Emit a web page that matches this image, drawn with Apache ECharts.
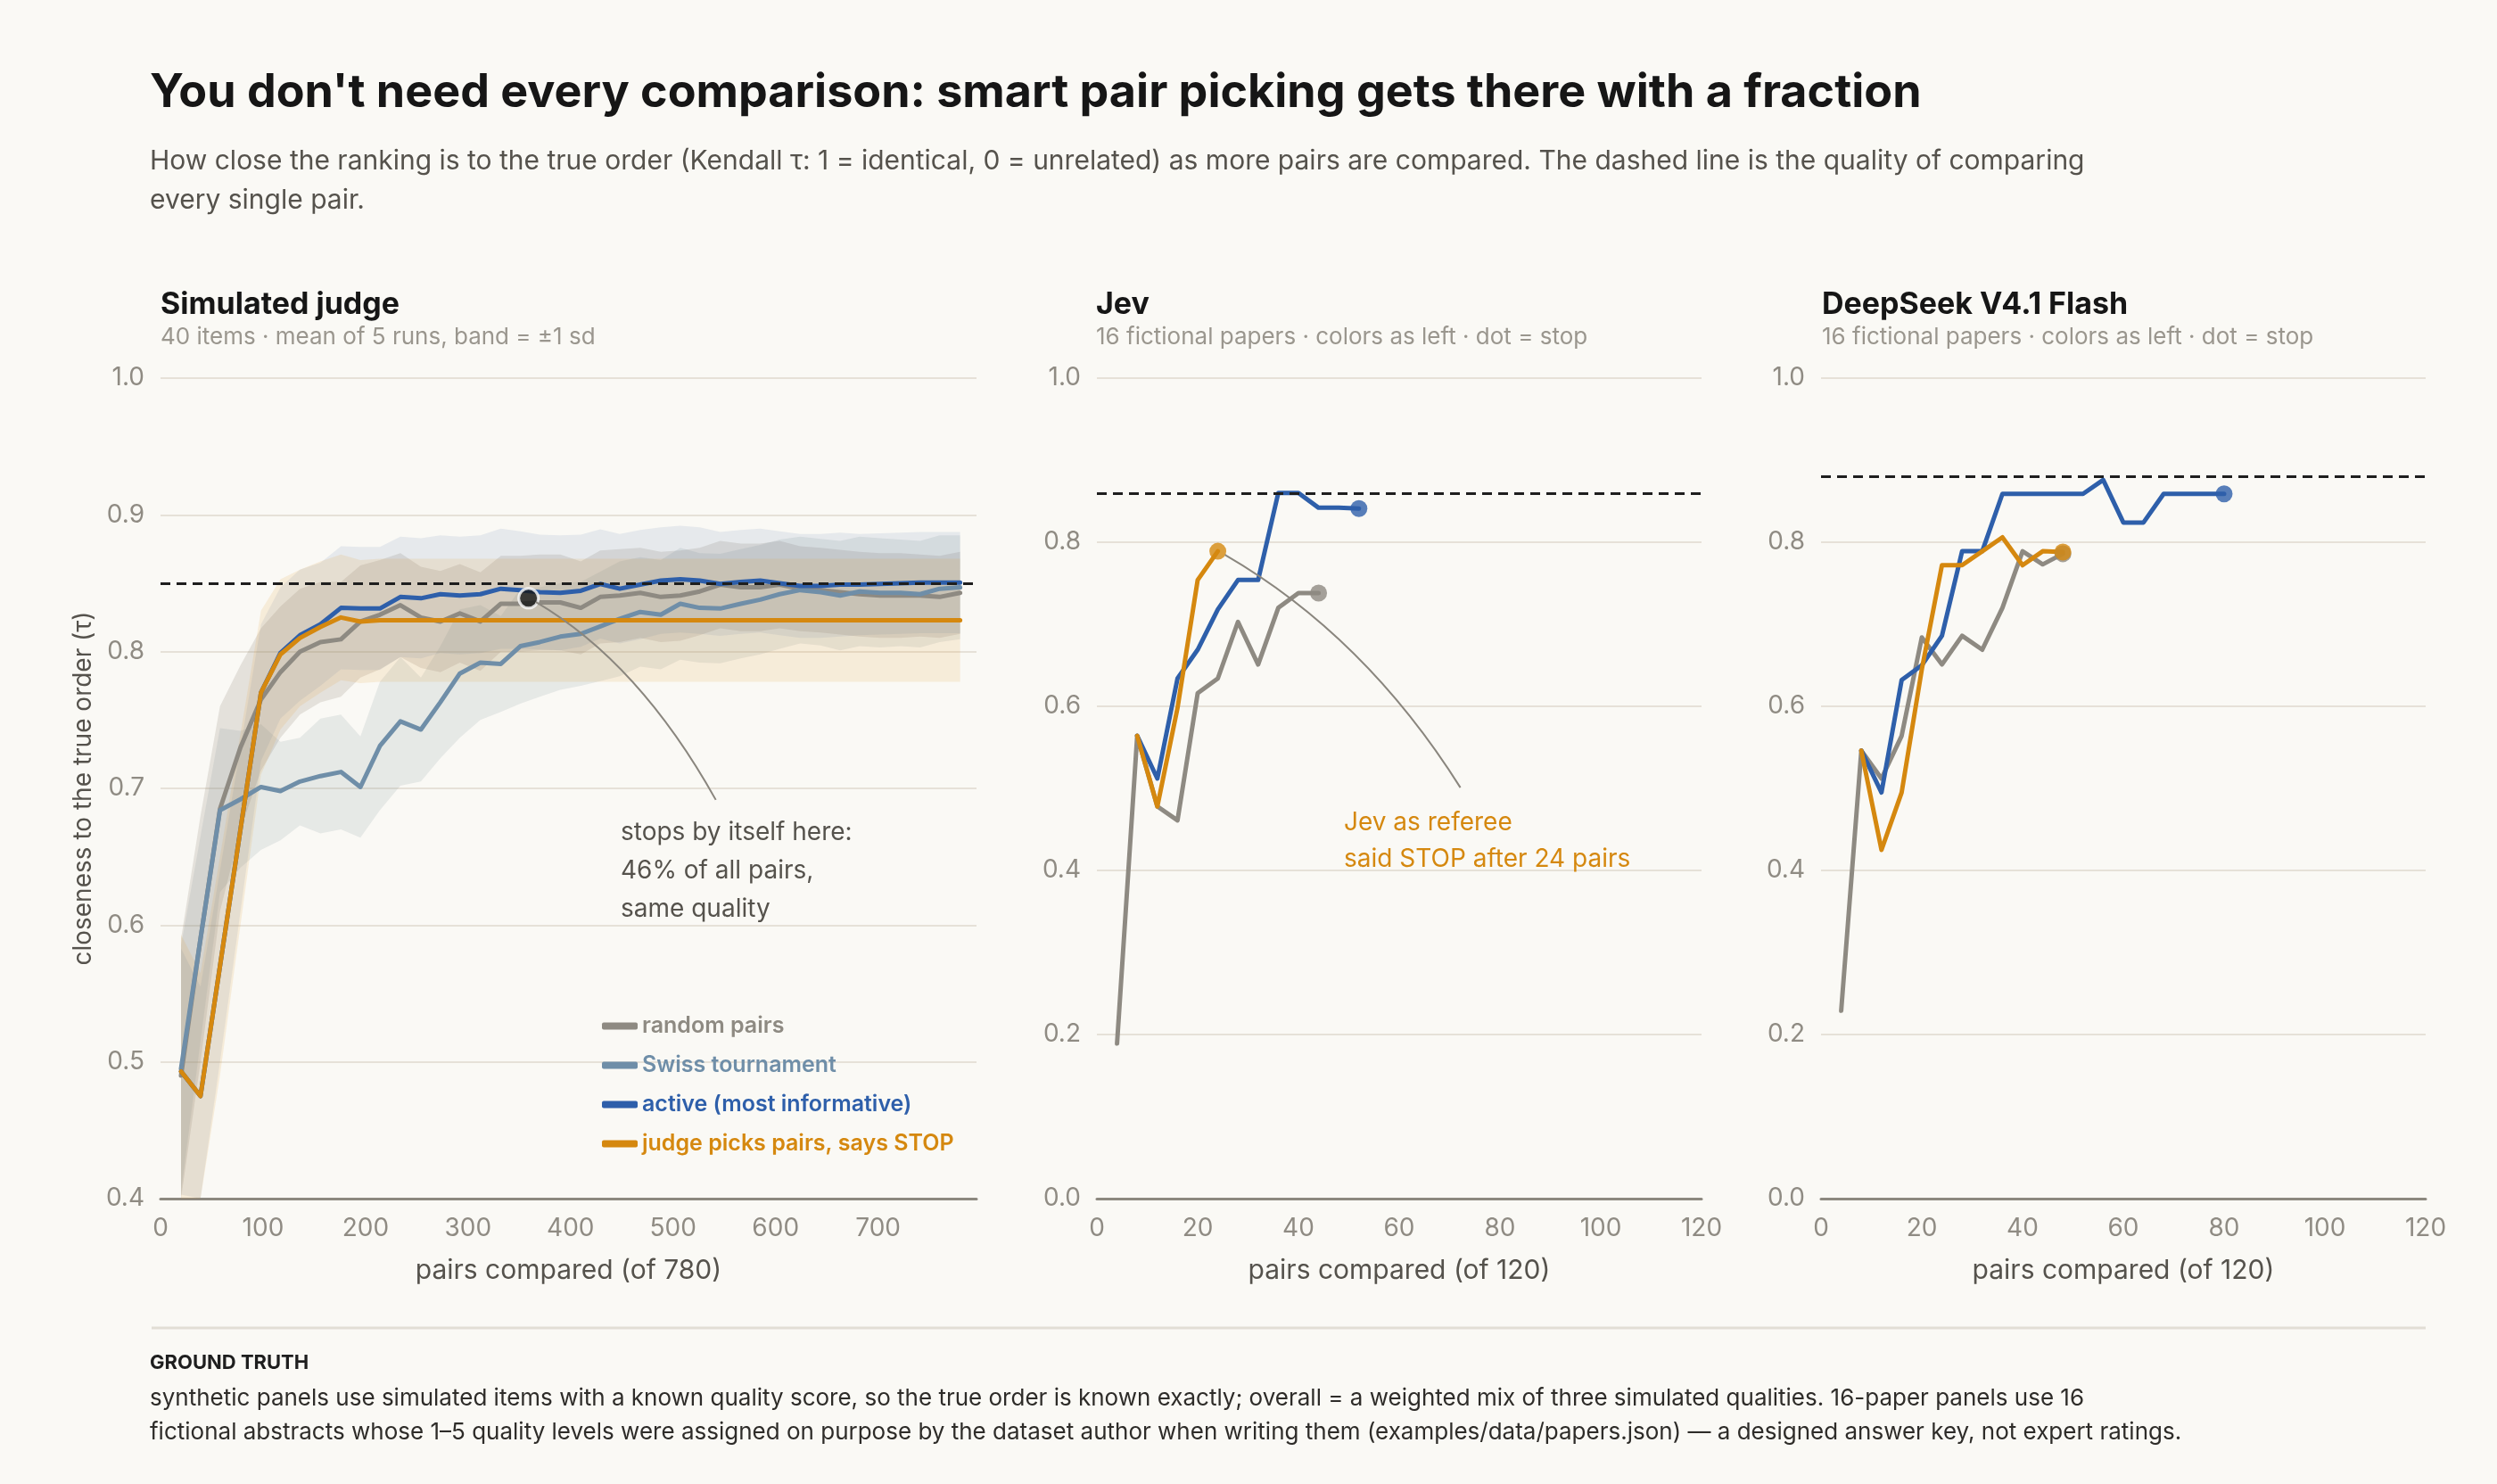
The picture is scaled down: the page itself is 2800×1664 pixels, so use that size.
<!DOCTYPE html>
<html>
<head>
<meta charset="utf-8">
<script src="https://cdn.jsdelivr.net/npm/echarts@6/dist/echarts.min.js"></script>
<style>
  html, body { margin: 0; padding: 0; background: #faf9f5; }
  #chart { width: 2800px; height: 1664px; }
</style>
</head>
<body>
<div id="chart"></div>
<script>
// ---- data ----
var leftPairs = [20, 39, 58, 78, 98, 117, 136, 156, 176, 195, 214, 234, 254, 273, 292, 312, 332, 351, 370, 390,
    410, 429, 448, 468, 488, 507, 526, 546, 566, 585, 604, 624, 644, 663, 682, 702, 722, 741, 760, 780];

var randomMean = [0.490, 0.590, 0.685, 0.730, 0.765, 0.785, 0.800, 0.807, 0.809, 0.822, 0.827, 0.834, 0.825, 0.822, 0.828, 0.822, 0.835, 0.835, 0.836, 0.836,
    0.832, 0.840, 0.841, 0.843, 0.840, 0.841, 0.844, 0.849, 0.847, 0.847, 0.849, 0.846, 0.845, 0.8435, 0.842, 0.841, 0.841, 0.841, 0.840, 0.843];
var swissMean = [0.495, 0.590, 0.684, 0.692, 0.701, 0.698, 0.705, 0.709, 0.712, 0.701, 0.731, 0.749, 0.743, 0.763, 0.784, 0.792, 0.791, 0.804, 0.807, 0.811,
    0.813, 0.8185, 0.824, 0.829, 0.827, 0.835, 0.832, 0.8315, 0.835, 0.838, 0.842, 0.845, 0.8435, 0.841, 0.844, 0.843, 0.843, 0.842, 0.846, 0.847];
var activeMean = [0.493, 0.475, 0.570, 0.670, 0.770, 0.799, 0.812, 0.820, 0.832, 0.8315, 0.8315, 0.840, 0.839, 0.842, 0.841, 0.842, 0.846, 0.845, 0.8435, 0.843,
    0.8445, 0.8495, 0.846, 0.849, 0.852, 0.853, 0.852, 0.8495, 0.851, 0.852, 0.850, 0.848, 0.848, 0.849, 0.849, 0.8495, 0.850, 0.8505, 0.8505, 0.8505];
var judgeMean = [0.493, 0.475, 0.570, 0.670, 0.770, 0.798, 0.810, 0.818, 0.825, 0.822, 0.823, 0.823, 0.823, 0.823, 0.823, 0.823, 0.823, 0.823, 0.823, 0.823,
    0.823, 0.823, 0.823, 0.823, 0.823, 0.823, 0.823, 0.823, 0.823, 0.823, 0.823, 0.823, 0.823, 0.823, 0.823, 0.823, 0.823, 0.823, 0.823, 0.823];

var randomSd = [0.100, 0.090, 0.075, 0.060, 0.052, 0.048, 0.046, 0.044, 0.042, 0.041, 0.040, 0.038, 0.037, 0.037, 0.036, 0.036, 0.035, 0.035, 0.035, 0.035,
    0.034, 0.034, 0.034, 0.033, 0.033, 0.033, 0.032, 0.032, 0.032, 0.032, 0.032, 0.031, 0.031, 0.031, 0.031, 0.031, 0.031, 0.030, 0.030, 0.030];
var swissSd = [0.090, 0.075, 0.060, 0.050, 0.046, 0.036, 0.032, 0.042, 0.042, 0.037, 0.047, 0.047, 0.038, 0.041, 0.047, 0.042, 0.035, 0.042, 0.040, 0.039,
    0.038, 0.040, 0.042, 0.040, 0.040, 0.041, 0.040, 0.040, 0.040, 0.040, 0.040, 0.039, 0.039, 0.040, 0.040, 0.040, 0.039, 0.039, 0.039, 0.038];
var activeSd = [0.090, 0.080, 0.070, 0.060, 0.050, 0.048, 0.048, 0.045, 0.045, 0.045, 0.045, 0.044, 0.044, 0.043, 0.043, 0.043, 0.044, 0.043, 0.042, 0.042,
    0.041, 0.040, 0.040, 0.040, 0.039, 0.039, 0.039, 0.038, 0.038, 0.038, 0.038, 0.038, 0.038, 0.038, 0.037, 0.037, 0.037, 0.037, 0.037, 0.037];
var judgeSd = [0.100, 0.090, 0.080, 0.070, 0.060, 0.055, 0.050, 0.048, 0.046, 0.045, 0.045, 0.045, 0.045, 0.045, 0.045, 0.045, 0.045, 0.045, 0.045, 0.045,
    0.045, 0.045, 0.045, 0.045, 0.045, 0.045, 0.045, 0.045, 0.045, 0.045, 0.045, 0.045, 0.045, 0.045, 0.045, 0.045, 0.045, 0.045, 0.045, 0.045];

var jevPairs = [4, 8, 12, 16, 20, 24, 28, 32, 36, 40, 44, 48, 52];
var jevRandom = [0.189, 0.564, 0.478, 0.461, 0.616, 0.634, 0.703, 0.651, 0.720, 0.738, 0.738, null, null];
var jevActive = [null, 0.564, 0.512, 0.634, 0.669, 0.718, 0.754, 0.754, 0.860, 0.860, 0.842, 0.842, 0.841];
var jevJudge = [null, 0.564, 0.478, 0.598, 0.754, 0.789, null, null, null, null, null, null, null];

var dsPairs = [4, 8, 12, 16, 20, 24, 28, 32, 36, 40, 44, 48, 52, 56, 60, 64, 68, 72, 76, 80];
var dsRandom = [0.229, 0.546, 0.512, 0.564, 0.684, 0.651, 0.686, 0.669, 0.720, 0.789, 0.773, 0.786, null, null, null, null, null, null, null, null];
var dsActive = [null, 0.546, 0.495, 0.632, 0.650, 0.686, 0.789, 0.789, 0.859, 0.859, 0.859, 0.859, 0.859, 0.876, 0.824, 0.824, 0.859, 0.859, 0.859, 0.859];
var dsJudge = [null, 0.546, 0.425, 0.495, 0.645, 0.772, 0.772, 0.789, 0.806, 0.772, 0.789, 0.788, null, null, null, null, null, null, null, null];

var allPairsTau = [0.852, 0.858, 0.876];   // dashed line per panel
var simStop = [359, 0.839];                // judge stops by itself (46% of 780)

var methodNames = ['random pairs', 'Swiss tournament', 'active (most informative)', 'judge picks pairs, says STOP'];

// ---- styling ----
var FONT = 'Inter, "Noto Sans", sans-serif';
var colors = ['#8e8a82', '#6f8ea8', '#2e5faa', '#d5880f'];
var bandColors = ['rgba(140,130,115,0.2)', 'rgba(120,140,150,0.15)', 'rgba(70,105,165,0.11)', 'rgba(225,160,60,0.15)'];
var tickGray = '#8f8b83';
var gridGray = '#e6e1d8';
var LEFT_MIN = 0.4;

function zip(xs, ys) {
    var res = [];
    for (var i = 0; i < xs.length; i++) {
        res.push([xs[i], ys[i]]);
    }
    return res;
}

function lastPoint(xs, ys) {
    for (var i = ys.length - 1; i >= 0; i--) {
        if (ys[i] != null) return [xs[i], ys[i]];
    }
}

var series = [];

// left panel: +-1 sd bands, one polygon per method
[randomMean, swissMean, activeMean, judgeMean].forEach(function (mean, i) {
    var sd = [randomSd, swissSd, activeSd, judgeSd][i];
    var band = [];
    for (var k = 0; k < mean.length; k++) {
        band.push([leftPairs[k], Math.max(mean[k] - sd[k], LEFT_MIN), Math.min(mean[k] + sd[k], 1)]);
    }
    series.push({
        type: 'custom', xAxisIndex: 0, yAxisIndex: 0, silent: true, z: 1, clip: true,
        encode: { x: 0, y: [1, 2] },
        data: band,
        renderItem: function (params, api) {
            if (params.dataIndex !== 0) return;
            var pts = [];
            band.forEach(function (d) { pts.push(api.coord([d[0], d[2]])); });
            band.slice().reverse().forEach(function (d) { pts.push(api.coord([d[0], d[1]])); });
            return { type: 'polygon', shape: { points: pts }, style: { fill: bandColors[i] } };
        }
    });
});

// left panel: mean lines
[randomMean, swissMean, activeMean, judgeMean].forEach(function (mean, i) {
    var s = {
        name: methodNames[i],
        type: 'line', xAxisIndex: 0, yAxisIndex: 0,
        symbol: 'none', z: 3,
        color: colors[i],
        lineStyle: { color: colors[i], width: 5, cap: 'round', join: 'round' },
        data: zip(leftPairs, mean)
    };
    if (i === 0) {
        s.markLine = {
            silent: true, symbol: 'none', label: { show: false },
            lineStyle: { color: '#1e1e1e', width: 3, type: [11, 7] },
            data: [{ yAxis: allPairsTau[0] }]
        };
    }
    series.push(s);
});

series.push({
    type: 'scatter', xAxisIndex: 0, yAxisIndex: 0, z: 5,
    symbolSize: 22,
    itemStyle: { color: '#151515', borderColor: '#ffffff', borderWidth: 3 },
    data: [simStop]
});

// 16-paper panels
[[jevPairs, jevRandom, jevActive, jevJudge], [dsPairs, dsRandom, dsActive, dsJudge]].forEach(function (panel, p) {
    var xs = panel[0];
    var lines = [panel[1], null, panel[2], panel[3]];
    lines.forEach(function (ys, i) {
        if (!ys) return;
        var s = {
            name: methodNames[i],
            type: 'line', xAxisIndex: p + 1, yAxisIndex: p + 1,
            symbol: 'none', z: 3,
            color: colors[i],
            lineStyle: { color: colors[i], width: 5, cap: 'round', join: 'round' },
            data: zip(xs, ys)
        };
        if (i === 0) {
            s.markLine = {
                silent: true, symbol: 'none', label: { show: false },
                lineStyle: { color: '#1e1e1e', width: 3, type: [11, 7] },
                data: [{ yAxis: allPairsTau[p + 1] }]
            };
        }
        series.push(s);
        series.push({
            name: methodNames[i],
            type: 'scatter', xAxisIndex: p + 1, yAxisIndex: p + 1, z: 4,
            symbolSize: 19,
            itemStyle: { color: colors[i] },
            data: [lastPoint(xs, ys)]
        });
    });
});

// ---- axes ----
var grids = [
    { left: 180, right: 1705, top: 424, bottom: 320 },
    { left: 1230, right: 892, top: 424, bottom: 320 },
    { left: 2042, right: 80, top: 424, bottom: 320 }
];

function xAxis(idx, max, interval, name) {
    return {
        type: 'value', gridIndex: idx, min: 0, max: max, interval: interval,
        name: name, nameLocation: 'middle', nameGap: 66,
        nameTextStyle: { color: '#55524c', fontSize: 30, fontFamily: FONT },
        axisLine: { show: true, lineStyle: { color: '#8c887f', width: 3 } },
        axisTick: { show: false },
        splitLine: { show: false },
        axisLabel: { color: tickGray, fontSize: 28, fontFamily: FONT, margin: 20, showMaxLabel: idx !== 0 }
    };
}

function yAxis(idx, min, interval, name) {
    return {
        type: 'value', gridIndex: idx, min: min, max: 1, interval: interval,
        name: name, nameLocation: 'middle', nameGap: 72,
        nameTextStyle: { color: '#55524c', fontSize: 28, fontFamily: FONT },
        axisLine: { show: false },
        axisTick: { show: false },
        splitLine: { lineStyle: { color: gridGray, width: 2 } },
        axisLabel: {
            color: tickGray, fontSize: 28, fontFamily: FONT, margin: 18,
            formatter: function (v) { return v.toFixed(1); }
        }
    };
}

var titleStyle = { color: '#161616', fontSize: 34, fontWeight: 700, fontFamily: FONT };
var panelSubStyle = { color: '#9a968e', fontSize: 26, fontWeight: 400, fontFamily: FONT };

var option = {
    backgroundColor: '#faf9f5',
    animation: false,
    title: [
        { text: "You don't need every comparison: smart pair picking gets there with a fraction",
          left: 163, top: 73, textStyle: { color: '#161616', fontSize: 52, fontWeight: 700, fontFamily: FONT } },
        { text: 'How close the ranking is to the true order (Kendall \u03c4: 1 = identical, 0 = unrelated) as more pairs are compared. The dashed line is the quality of comparing\nevery single pair.',
          left: 163, top: 154, textStyle: { color: '#55524c', fontSize: 30, fontWeight: 400, lineHeight: 44, fontFamily: FONT } },
        { text: 'Simulated judge', left: 175, top: 320, textStyle: titleStyle },
        { text: '40 items \u00b7 mean of 5 runs, band = \u00b11 sd', left: 175, top: 360, textStyle: panelSubStyle },
        { text: 'Jev', left: 1224, top: 320, textStyle: titleStyle },
        { text: '16 fictional papers \u00b7 colors as left \u00b7 dot = stop', left: 1224, top: 360, textStyle: panelSubStyle },
        { text: 'DeepSeek V4.1 Flash', left: 2038, top: 320, textStyle: titleStyle },
        { text: '16 fictional papers \u00b7 colors as left \u00b7 dot = stop', left: 2038, top: 360, textStyle: panelSubStyle },
        { text: 'GROUND TRUTH', left: 163, top: 1512, textStyle: { color: '#1e1e1e', fontSize: 22, fontWeight: 700, fontFamily: FONT } },
        { text: 'synthetic panels use simulated items with a known quality score, so the true order is known exactly; overall = a weighted mix of three simulated qualities. 16-paper panels use 16\nfictional abstracts whose 1\u20135 quality levels were assigned on purpose by the dataset author when writing them (examples/data/papers.json) \u2014 a designed answer key, not expert ratings.',
          left: 163, top: 1544, textStyle: { color: '#2e2c29', fontSize: 26, fontWeight: 400, lineHeight: 38, fontFamily: FONT } }
    ],
    legend: {
        orient: 'vertical', left: 670, top: 1133,
        icon: 'roundRect', itemWidth: 40, itemHeight: 8, itemGap: 19,
        selectedMode: false,
        textStyle: { fontSize: 25, fontWeight: 600, fontFamily: FONT },
        data: methodNames.map(function (n, i) {
            return { name: n, textStyle: { color: colors[i] } };
        })
    },
    grid: grids,
    xAxis: [
        xAxis(0, 796, 100, 'pairs compared (of 780)'),
        xAxis(1, 120, 20, 'pairs compared (of 120)'),
        xAxis(2, 120, 20, 'pairs compared (of 120)')
    ],
    yAxis: [
        yAxis(0, LEFT_MIN, 0.1, 'closeness to the true order (\u03c4)'),
        yAxis(1, 0, 0.2, ''),
        yAxis(2, 0, 0.2, '')
    ],
    series: series
};

var chart = echarts.init(document.getElementById('chart'), null, { renderer: 'canvas' });
chart.setOption(option);

// annotations tied to the stop dots
var simDot = chart.convertToPixel({ gridIndex: 0 }, simStop);
var jevDot = chart.convertToPixel({ gridIndex: 1 }, lastPoint(jevPairs, jevJudge));
var annoGray = '#8a867e';

chart.setOption({
    graphic: [
        { type: 'line', shape: { x1: 170, y1: 1489, x2: 2720, y2: 1489 },
          style: { stroke: '#e2ded5', lineWidth: 3 } },
        { type: 'bezierCurve', z: 10,
          shape: { x1: simDot[0] + 8, y1: simDot[1] + 4, cpx1: simDot[0] + 124, cpy1: simDot[1] + 72,
                   x2: simDot[0] + 210, y2: simDot[1] + 226 },
          style: { stroke: annoGray, lineWidth: 2, fill: null } },
        { type: 'text', left: 696, top: 912, z: 10,
          style: { text: 'stops by itself here:\n46% of all pairs,\nsame quality', fill: '#55524c',
                   font: '400 28px ' + FONT, lineHeight: 43 } },
        { type: 'bezierCurve', z: 10,
          shape: { x1: jevDot[0] + 8, y1: jevDot[1] + 4, cpx1: jevDot[0] + 165, cpy1: jevDot[1] + 95,
                   x2: jevDot[0] + 272, y2: jevDot[1] + 265 },
          style: { stroke: annoGray, lineWidth: 2, fill: null } },
        { type: 'text', left: 1507, top: 902, z: 10,
          style: { text: 'Jev as referee\nsaid STOP after 24 pairs', fill: '#d5880f',
                   font: '400 28px ' + FONT, lineHeight: 41 } }
    ]
});
</script>
</body>
</html>
